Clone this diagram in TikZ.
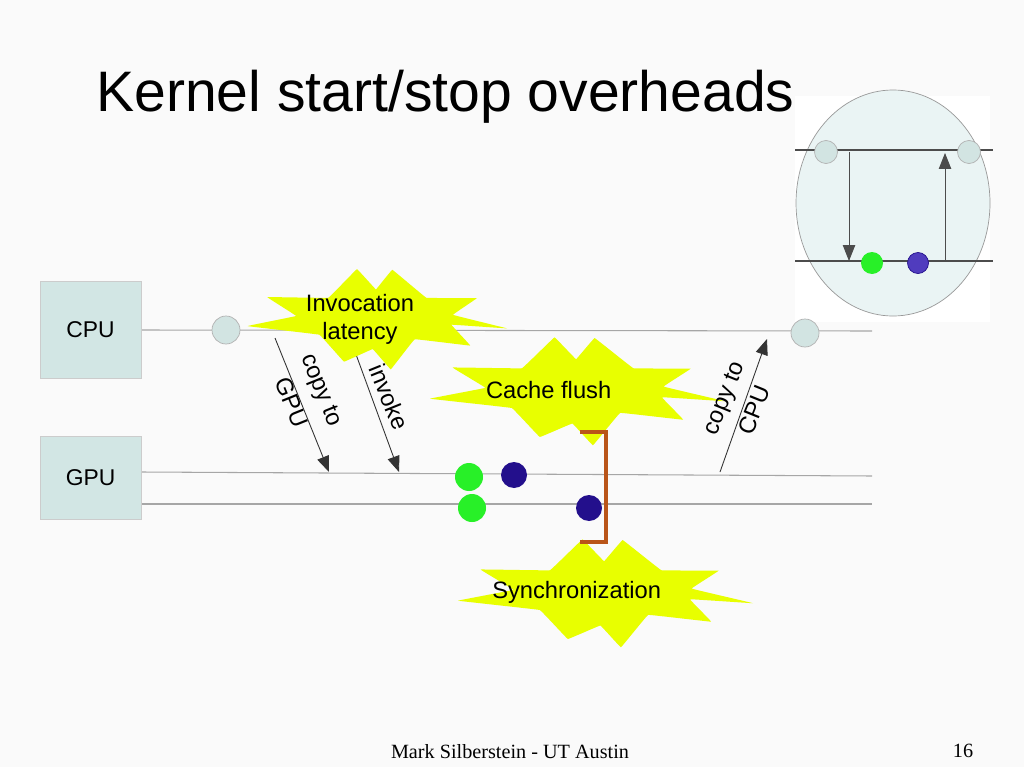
\documentclass[tikz,border=0pt]{standalone}
\usepackage{fontspec}
\setmainfont{Liberation Sans}
\newfontfamily\serifft{Liberation Serif}
\usetikzlibrary{arrows.meta}
\definecolor{bg}{RGB}{250,250,250}
\definecolor{boxfill}{RGB}{210,230,228}
\definecolor{dotfill}{RGB}{210,228,226}
\definecolor{burst}{RGB}{232,255,0}
\definecolor{grn}{RGB}{40,240,40}
\definecolor{blu}{RGB}{35,15,140}
\definecolor{blu2}{RGB}{80,60,190}
\definecolor{brk}{RGB}{185,85,25}
\definecolor{ell}{RGB}{234,244,244}
\tikzset{
  lane/.style={draw=gray!70,line width=0.6pt},
  unit/.style={draw=gray!40,fill=boxfill,minimum width=2.02cm,inner sep=0pt,font=\fontsize{13}{15}\selectfont},
  ldot/.style={circle,draw=gray!60,fill=dotfill,minimum size=0.56cm,inner sep=0pt},
  gdot/.style={circle,fill=grn,minimum size=0.56cm,inner sep=0pt},
  bdot/.style={circle,fill=blu,minimum size=0.52cm,inner sep=0pt},
  msg/.style={draw=black!80,line width=0.5pt,-{Triangle[length=9pt,width=7pt]}},
  lbl/.style={font=\fontsize{13.5}{15}\selectfont,align=center,inner sep=1pt},
}
\newcommand{\myburst}[5]{% cx cy rx ry name
  \fill[burst] plot[smooth cycle,tension=0.05] coordinates{
    ({#1+#3*cos(0)},{#2+#4*0.2})
    ({#1+0.6*#3*cos(15)},{#2+0.5*#4*sin(15)})
    ({#1+0.85*#3*cos(32)},{#2+#4*sin(32)})
    ({#1+0.45*#3*cos(48)},{#2+0.55*#4*sin(48)})
    ({#1+0.35*#3*cos(70)},{#2+1.05*#4*sin(70)})
    ({#1+0.2*#3*cos(95)},{#2+0.6*#4*sin(95)})
    ({#1+0.5*#3*cos(118)},{#2+0.95*#4*sin(118)})
    ({#1+0.55*#3*cos(140)},{#2+0.5*#4*sin(140)})
    ({#1+#3*cos(165)},{#2+0.6*#4*sin(165)})
    ({#1+0.6*#3*cos(185)},{#2+0.45*#4*sin(185)})
    ({#1+0.9*#3*cos(205)},{#2+0.95*#4*sin(205)})
    ({#1+0.5*#3*cos(225)},{#2+0.55*#4*sin(225)})
    ({#1+0.4*#3*cos(250)},{#2+1.0*#4*sin(250)})
    ({#1+0.2*#3*cos(272)},{#2+0.55*#4*sin(272)})
    ({#1+0.35*#3*cos(292)},{#2+1.0*#4*sin(292)})
    ({#1+0.55*#3*cos(315)},{#2+0.55*#4*sin(315)})
    ({#1+0.85*#3*cos(335)},{#2+0.9*#4*sin(335)})
    ({#1+0.6*#3*cos(350)},{#2+0.35*#4*sin(350)})
  };
  \coordinate (#5) at (#1,#2);
}
\begin{document}
\begin{tikzpicture}[x=0.02cm,y=-0.02cm]
\fill[bg] (0,0) rectangle (1024,767);
\useasboundingbox (0,0) rectangle (1024,767);
\node[anchor=west,font=\fontsize{32.5}{36}\selectfont,inner sep=0pt] (title) at (96,97) {Kernel start/stop overheads};

% inset
\fill[white] (795,96) rectangle (990,322);
\draw[gray!80,fill=ell] (893,203) ellipse [x radius=97,y radius=113];
\coordinate (it1) at (795,150); \coordinate (it2) at (993,150);
\coordinate (ib1) at (795,261); \coordinate (ib2) at (993,261);
\draw[black!70,line width=0.6pt] (it1) -- (it2);
\draw[black!70,line width=0.6pt] (ib1) -- (ib2);
\node[ldot,minimum size=0.46cm] (ia) at (826,152) {};
\node[ldot,minimum size=0.46cm] (ib) at (969,152) {};
\coordinate (ad1) at (849,152); \coordinate (ad2) at (849,261);
\coordinate (au1) at (945,261); \coordinate (au2) at (945,153);
\draw[msg,draw=black!70] (ad1) -- (ad2);
\draw[msg,draw=black!70] (au1) -- (au2);
\node[gdot,minimum size=0.44cm] (ig) at (872,263) {};
\node[circle,fill=blu2,draw=blu,minimum size=0.42cm,inner sep=0pt] (iv) at (918,263) {};

% units
\node[unit,minimum height=1.94cm] (cpu) at (90.5,329.5) {CPU};
\node[unit,minimum height=1.66cm] (gpu) at (90.5,477.5) {GPU};
\coordinate (cl1) at (142,330); \coordinate (cl2) at (872,331);
\coordinate (gl1) at (142,472); \coordinate (gl2) at (872,476);
\coordinate (hl1) at (142,504); \coordinate (hl2) at (872,504);
\draw[lane] (cl1) -- (cl2);
\draw[lane] (gl1) -- (gl2);
\draw[lane] (hl1) -- (hl2);
\node[ldot] (c1) at (226,330) {};
\node[ldot] (c2) at (805,333) {};

% messages (under the bursts)
\coordinate (m1a) at (275,338); \coordinate (m1b) at (329,472);
\coordinate (m2a) at (350,338); \coordinate (m2b) at (399,472);
\coordinate (m3a) at (720,472); \coordinate (m3b) at (767,339);
\draw[msg] (m1a) -- (m1b);
\draw[msg] (m2a) -- (m2b);
\draw[msg] (m3a) -- (m3b);

% bursts
\myburst{375}{318}{132}{52}{b1}
\myburst{575}{390}{150}{56}{b2}
\myburst{603}{592}{150}{56}{b3}
\node[lbl,font=\fontsize{13.5}{16}\selectfont] at (360,319) {Invocation\\latency};
\node[lbl] at ([xshift=-15]b2) {Cache flush};
\node[lbl] at ([xshift=-15]b3) {Synchronization};

\node[lbl,rotate=-68,font=\fontsize{13.5}{19}\selectfont] at (307,396) {copy to\\GPU};
\node[lbl,rotate=-68] at (389,397) {invoke};
\node[lbl,rotate=68,font=\fontsize{13.5}{19}\selectfont] at (739,404) {copy to\\CPU};

% dots
\node[gdot] (g1) at (469,477) {};
\node[gdot] (g2) at (472,508) {};
\node[bdot] (v1) at (514,475) {};
\node[bdot] (v2) at (589,508) {};
\draw[brk,line width=2.5pt] (580,432) -- (606,432) -- (606,542) -- (580,542);

\node[font=\serifft\fontsize{11.5}{13}\selectfont] (foot) at (510,752) {Mark Silberstein - UT Austin};
\node[font=\serifft\fontsize{11.5}{13}\selectfont] (pg) at (963,751) {16};
\end{tikzpicture}
\end{document}
